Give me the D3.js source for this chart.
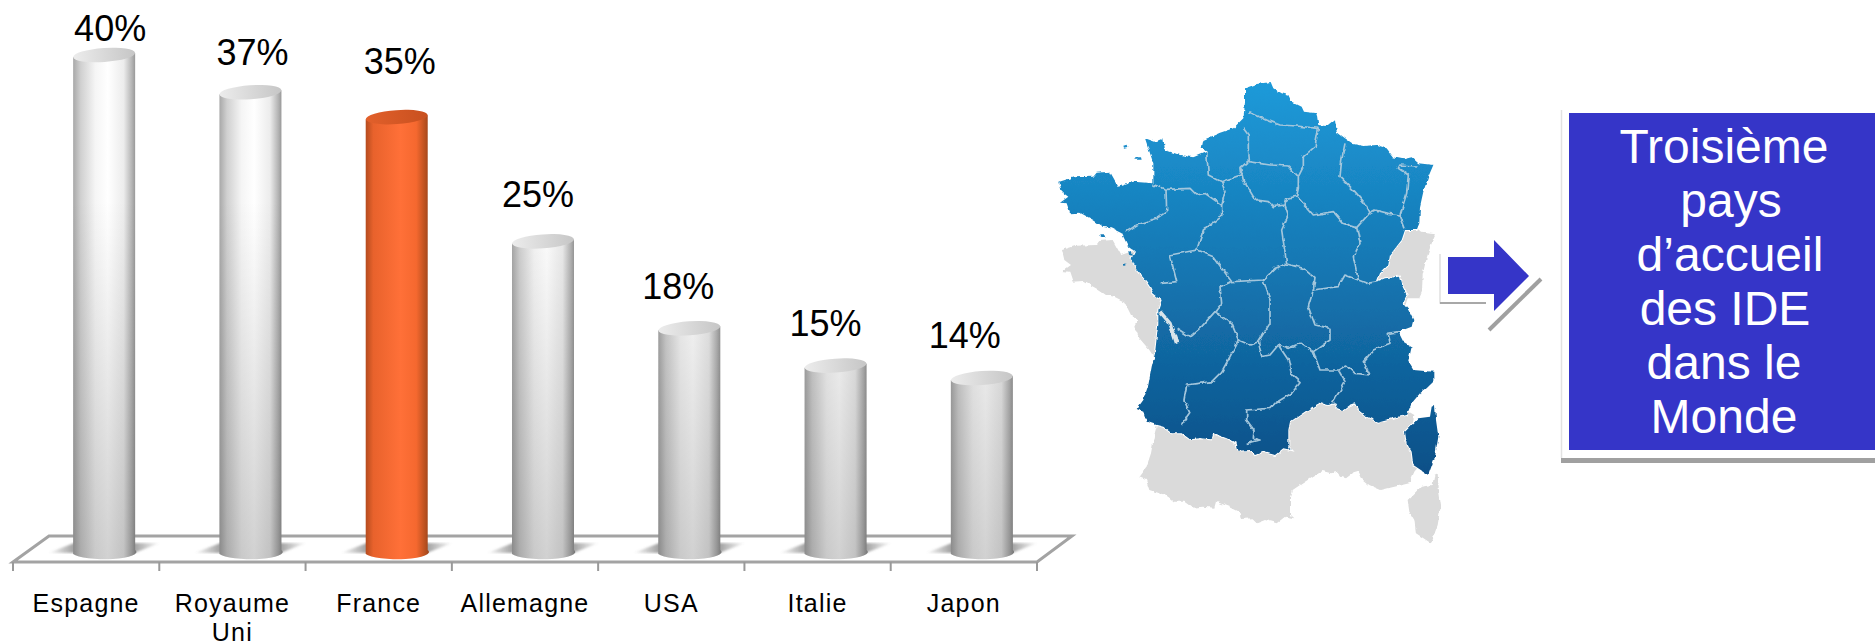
<!DOCTYPE html>
<html lang="fr">
<head>
<meta charset="utf-8">
<title>Pays d'accueil des IDE</title>
<script src="https://cdn.jsdelivr.net/npm/d3@7"></script>
<style>
  html, body { margin: 0; background: #fff; overflow: hidden; }
  text { font-family: "Liberation Sans", Arial, sans-serif; }
</style>
</head>
<body>
<div id="chart"></div>
<script>
// Values
const countries = ['Espagne', 'Royaume Uni', 'France', 'Allemagne', 'USA', 'Italie', 'Japon'];
const shares = [40, 37, 35, 25, 18, 15, 14];
const highlighted = 'France';
const boxLines = ['Troisième', 'pays', 'd’accueil', 'des IDE', 'dans le', 'Monde'];

// Data labels were placed by hand in the original: nudges from the bar position
const labelDx = [24, 20, 21, 13, 7, 8, 1];
const labelDy = [-14, -27, -43, -34, -29, -30, -30];
// Per-line centre of the box text (the lines are not quite aligned)
const boxLineX = [1724, 1731, 1730, 1725, 1724, 1724];

// Map outlines, traced in a 1350x1500 frame
const franceOutline = [[645,85],[680,72],[722,66],[730,85],[755,100],[775,105],[785,125],[815,140],[822,155],[860,160],[865,195],[890,198],[900,190],[915,178],[920,215],[945,235],[970,252],[1000,258],[1040,255],[1070,265],[1090,292],[1120,298],[1145,292],[1165,310],[1210,315],[1195,350],[1180,395],[1170,440],[1168,490],[1160,510],[1125,510],[1115,540],[1080,585],[1075,615],[1050,640],[1040,665],[1065,655],[1110,650],[1118,680],[1130,705],[1118,730],[1135,750],[1150,780],[1145,800],[1105,815],[1120,845],[1145,860],[1135,905],[1150,930],[1210,935],[1210,965],[1190,985],[1170,1000],[1145,1030],[1130,1065],[1085,1075],[1045,1085],[1010,1070],[985,1050],[975,1030],[960,1035],[940,1050],[925,1045],[915,1030],[895,1035],[870,1028],[840,1045],[810,1065],[780,1085],[775,1110],[775,1160],[785,1170],[760,1165],[735,1185],[700,1175],[675,1185],[660,1170],[625,1172],[620,1150],[590,1135],[550,1120],[545,1138],[510,1135],[480,1138],[455,1120],[425,1120],[400,1100],[380,1095],[350,1085],[340,1055],[320,1047],[340,1020],[355,975],[365,920],[375,880],[385,790],[385,750],[395,720],[370,700],[360,680],[350,665],[320,630],[305,595],[315,575],[295,560],[275,520],[245,505],[220,500],[190,480],[150,458],[120,460],[110,430],[90,428],[115,410],[95,395],[88,365],[130,352],[190,350],[200,338],[240,335],[265,380],[310,365],[370,370],[370,310],[345,235],[375,245],[400,235],[405,270],[450,285],[490,292],[530,275],[515,265],[520,240],[570,218],[610,205],[640,175],[645,130]];
const corsicaOutline = [[1205,1040],[1215,1035],[1218,1080],[1225,1130],[1215,1190],[1195,1245],[1150,1215],[1145,1175],[1130,1150],[1125,1115],[1165,1075],[1200,1070]];
const islands = [
  [[280,260],[290,257],[292,264],[282,266]],
  [[315,292],[330,292],[332,299],[317,299]],
  [[211,526],[224,526],[226,534],[214,534]],
  [[295,572],[303,575],[305,587],[297,584]],
  [[282,611],[289,611],[289,617],[282,617]]
];
const regionBorders = [
  [[655,155],[710,180],[750,195],[800,198],[865,205]],
  [[640,205],[655,225],[655,270],[658,300],[630,325],[632,345],[575,365],[535,345],[530,275]],
  [[655,305],[720,315],[775,318],[805,350]],
  [[865,205],[855,260],[820,290],[820,320],[805,350],[805,385],[800,408]],
  [[632,325],[640,360],[670,410],[680,420],[715,425],[730,440],[765,435],[770,415],[800,408]],
  [[800,408],[850,465],[910,455],[940,490],[980,503],[1020,458]],
  [[945,250],[935,300],[930,350],[975,395],[1005,430],[1020,458],[1035,450],[1075,460],[1110,465],[1125,505]],
  [[1160,318],[1110,315],[1105,325],[1135,345],[1130,400],[1110,465]],
  [[370,375],[408,388],[410,455],[380,475],[320,495],[290,515]],
  [[408,388],[480,385],[500,405],[525,400],[575,435]],
  [[575,365],[585,395],[575,435],[575,470],[520,510],[500,570]],
  [[500,570],[420,585],[440,665],[395,670]],
  [[500,570],[550,590],[605,665],[700,660],[735,625],[770,612]],
  [[765,435],[775,465],[755,510],[770,612]],
  [[770,612],[820,625],[855,655],[850,690],[925,680],[945,645],[985,660],[1010,670],[1045,665]],
  [[980,503],[990,550],[970,590],[985,660]],
  [[605,665],[570,680],[575,730],[555,755],[515,800],[480,830],[440,805]],
  [[555,755],[605,790],[625,840],[660,855],[685,845],[720,790],[720,720],[700,660]],
  [[850,690],[835,740],[855,795],[900,805],[900,840],[850,875],[810,850],[775,865],[745,855],[720,885],[695,890],[685,845]],
  [[625,840],[600,890],[575,935],[545,965],[470,975],[462,1020],[480,1060],[455,1095]],
  [[745,855],[775,900],[785,945],[810,968],[785,1000],[735,1030],[720,1045],[650,1050],[650,1080],[672,1110],[670,1135],[690,1140],[650,1150]],
  [[850,875],[870,930],[925,930],[945,965],[925,1000],[905,1030]],
  [[925,930],[950,915],[975,940],[1020,945],[1000,905],[1030,870],[1080,850],[1075,820],[1105,815]]
];
const girondeEstuary = [[390,755],[420,790],[440,850]];

const svg = d3.select('#chart').append('svg')
  .attr('width', 1875)
  .attr('height', 642);
const defs = svg.append('defs');

// Gradients
function cylinderGradient(id, stops) {
  const g = defs.append('linearGradient').attr('id', id);
  stops.forEach(s => g.append('stop').attr('offset', s[0]).attr('stop-color', s[1]));
}
cylinderGradient('body-grey', [[0, '#a8a8a8'], [0.12, '#d0d0d0'], [0.35, '#f5f5f5'], [0.55, '#ffffff'], [0.8, '#ececec'], [0.93, '#b4b4b4'], [1, '#8e8e8e']]);
cylinderGradient('body-orange', [[0, '#b54c1f'], [0.12, '#e8622c'], [0.55, '#ff7038'], [0.8, '#f5682f'], [0.94, '#b9501f'], [1, '#9c441c']]);
cylinderGradient('top-grey', [[0, '#ececec'], [1, '#c6c6c6']]);
cylinderGradient('top-orange', [[0, '#e2602b'], [1, '#c8501f']]);

const fade = defs.append('linearGradient').attr('id', 'body-fade')
  .attr('gradientUnits', 'userSpaceOnUse')
  .attr('x1', 0).attr('x2', 0).attr('y1', 200).attr('y2', 560);
fade.append('stop').attr('offset', 0).attr('stop-color', '#000').attr('stop-opacity', 0);
fade.append('stop').attr('offset', 1).attr('stop-color', '#000').attr('stop-opacity', 0.18);

const shadowGrad = defs.append('linearGradient').attr('id', 'floor-shadow');
shadowGrad.append('stop').attr('offset', 0).attr('stop-color', '#777').attr('stop-opacity', 0);
shadowGrad.append('stop').attr('offset', 0.3).attr('stop-color', '#777').attr('stop-opacity', 0.9);
shadowGrad.append('stop').attr('offset', 0.7).attr('stop-color', '#777').attr('stop-opacity', 0.9);
shadowGrad.append('stop').attr('offset', 1).attr('stop-color', '#777').attr('stop-opacity', 0);

defs.append('filter').attr('id', 'soft').append('feGaussianBlur').attr('stdDeviation', 1);

// Rough edge for the traced map, the original is a low-res bitmap outline
const rough = defs.append('filter').attr('id', 'rough')
  .attr('filterUnits', 'userSpaceOnUse')
  .attr('x', 1030).attr('y', 60).attr('width', 450).attr('height', 500);
rough.append('feTurbulence')
  .attr('type', 'fractalNoise').attr('baseFrequency', 0.16).attr('numOctaves', 2).attr('seed', 4);
rough.append('feDisplacementMap')
  .attr('in', 'SourceGraphic').attr('scale', 4)
  .attr('xChannelSelector', 'R').attr('yChannelSelector', 'G');

const mapGrad = defs.append('linearGradient').attr('id', 'map-blue')
  .attr('gradientUnits', 'userSpaceOnUse')
  .attr('x1', 0).attr('x2', 0).attr('y1', 82).attr('y2', 477);
mapGrad.append('stop').attr('offset', 0).attr('stop-color', '#1e9ad9');
mapGrad.append('stop').attr('offset', 1).attr('stop-color', '#0b4f87');

// Scales
const x = d3.scaleBand().domain(countries).range([13, 1037]);
const y = d3.scaleLinear().domain([0, 40]).range([552, 55]);

const floorDepthX = 35;
const floorDepthY = 26;
const frontY = 562;
const barShift = 18;     // cylinders stand in the middle of the floor, not on the front edge
const barW = 62;
const capRy = 7;
const barCx = d => x(d) + x.bandwidth() / 2 + barShift;

// Floor
const chart = svg.append('g');
chart.append('path')
  .attr('d', `M13,${frontY}L${13 + floorDepthX + 1},${frontY - floorDepthY}L${1037 + floorDepthX},${frontY - floorDepthY}L1037,${frontY}Z`)
  .attr('fill', '#fff')
  .attr('stroke', '#a3a3a3')
  .attr('stroke-width', 3);

// Axis: band edges for the ticks, band centres for the labels
chart.selectAll('.tick-mark')
  .data([...countries.map(d => x(d)), 1037])
  .enter()
  .append('line')
  .attr('class', 'tick-mark')
  .attr('x1', d => d).attr('x2', d => d)
  .attr('y1', frontY).attr('y2', frontY + 9)
  .attr('stroke', '#999')
  .attr('stroke-width', 2);

const axis = chart.append('g')
  .attr('transform', `translate(0,${frontY})`)
  .call(d3.axisBottom(x).tickSize(0).tickFormat(''));
axis.select('.domain').remove();
axis.selectAll('.tick').append('text')
  .attr('text-anchor', 'middle')
  .attr('fill', '#000')
  .style('font-size', '25px')
  .style('letter-spacing', '1.2px')
  .each(function(d) {
    const words = d.split(' ');
    d3.select(this).selectAll('tspan')
      .data(words)
      .enter()
      .append('tspan')
      .attr('x', 0)
      .attr('y', (w, i) => 50 + i * 29)
      .text(w => w);
  });

// Cylinders
const bars = chart.selectAll('.bar')
  .data(countries)
  .enter()
  .append('g')
  .attr('class', 'bar');

bars.append('path')
  .attr('d', d => {
    const cx = barCx(d);
    return `M${cx - 56},${y(0) + 1}L${cx - 30},${y(0) - 9}L${cx + 56},${y(0) - 9}L${cx + 30},${y(0) + 1}Z`;
  })
  .attr('fill', 'url(#floor-shadow)')
  .attr('filter', 'url(#soft)');

function cylinderPath(d) {
  const cx = barCx(d);
  const top = y(shares[countries.indexOf(d)]);
  const bottom = y(0);
  const r = barW / 2;
  // straight top edge: the cap ellipse is drawn over it
  return `M${cx - r},${top + 2}L${cx - r},${bottom + 2}A${r},${capRy} 0 0 0 ${cx + r},${bottom - 2}L${cx + r},${top - 2}Z`;
}

bars.append('path')
  .attr('d', cylinderPath)
  .attr('fill', d => d === highlighted ? 'url(#body-orange)' : 'url(#body-grey)');

bars.filter(d => d !== highlighted).append('path')
  .attr('d', cylinderPath)
  .attr('fill', 'url(#body-fade)');

bars.append('ellipse')
  .attr('cx', d => barCx(d))
  .attr('cy', (d, i) => y(shares[i]))
  .attr('rx', barW / 2)
  .attr('ry', capRy)
  .attr('transform', (d, i) => `rotate(-4 ${barCx(d)} ${y(shares[i])})`)
  .attr('fill', d => d === highlighted ? 'url(#top-orange)' : 'url(#top-grey)');

// Data labels
chart.selectAll('.value-label')
  .data(countries)
  .enter()
  .append('text')
  .attr('class', 'value-label')
  .attr('x', (d, i) => x(d) + x.bandwidth() / 2 + labelDx[i])
  .attr('y', (d, i) => y(shares[i]) + labelDy[i])
  .attr('text-anchor', 'middle')
  .attr('fill', '#000')
  .style('font-size', '36px')
  .text((d, i) => `${shares[i]}%`);

// Map
const mapX = d3.scaleLinear().domain([0, 1350]).range([1030, 1480]);
const mapY = d3.scaleLinear().domain([0, 1500]).range([60, 560]);
const mapLine = d3.line().x(p => mapX(p[0])).y(p => mapY(p[1]));
const closed = pts => mapLine(pts) + 'Z';
const landShapes = [franceOutline, corsicaOutline];

const map = svg.append('g').attr('filter', 'url(#rough)');
map.append('g')
  .attr('transform', `translate(${mapX(8) - mapX(0)},${mapY(205) - mapY(0)})`)
  .selectAll('path')
  .data(landShapes)
  .enter()
  .append('path')
  .attr('d', closed)
  .attr('fill', '#dadada');

map.selectAll('.land-halo')
  .data(landShapes)
  .enter()
  .append('path')
  .attr('class', 'land-halo')
  .attr('d', closed)
  .attr('fill', '#fff')
  .attr('stroke', '#fff')
  .attr('stroke-width', 2);

map.selectAll('.land')
  .data([...landShapes, ...islands])
  .enter()
  .append('path')
  .attr('class', 'land')
  .attr('d', closed)
  .attr('fill', 'url(#map-blue)');

map.selectAll('.border')
  .data(regionBorders)
  .enter()
  .append('path')
  .attr('class', 'border')
  .attr('d', mapLine)
  .attr('fill', 'none')
  .attr('stroke', '#a3c6dc')
  .attr('stroke-width', 1.7)
  .attr('stroke-linejoin', 'round');

map.append('path')
  .attr('d', mapLine(girondeEstuary))
  .attr('fill', 'none')
  .attr('stroke', '#d9e4ea')
  .attr('stroke-width', 3.5);

// Arrow with its offset shadow
const arrow = svg.append('g');
arrow.append('path')
  .attr('d', 'M1440,254V303H1486')
  .attr('fill', 'none')
  .attr('stroke', '#e0e0e0')
  .attr('stroke-width', 1.5);
arrow.append('line')
  .attr('x1', 1440).attr('x2', 1486).attr('y1', 303).attr('y2', 303)
  .attr('stroke', '#a8a8a8').attr('stroke-width', 2);
arrow.append('line')
  .attr('x1', 1541).attr('y1', 279).attr('x2', 1489).attr('y2', 330)
  .attr('stroke', '#a0a0a0').attr('stroke-width', 4);
arrow.append('path')
  .attr('d', 'M1448,257H1494V240L1529,276L1494,311V294H1448Z')
  .attr('fill', '#3535c8');

// Text box
const box = svg.append('g');
box.append('line')
  .attr('x1', 1561.5).attr('x2', 1561.5).attr('y1', 110).attr('y2', 458)
  .attr('stroke', '#e2e2e2').attr('stroke-width', 1.5);
box.append('rect')
  .attr('x', 1561).attr('y', 458).attr('width', 314).attr('height', 5)
  .attr('fill', '#a0a0a0');
box.append('rect')
  .attr('x', 1569).attr('y', 113).attr('width', 306).attr('height', 337)
  .attr('fill', '#3535c8');
box.selectAll('text')
  .data(boxLines)
  .enter()
  .append('text')
  .attr('x', (d, i) => boxLineX[i])
  .attr('y', (d, i) => 163 + i * 54)
  .attr('text-anchor', 'middle')
  .attr('fill', '#fff')
  .style('font-size', '48px')
  .text(d => d);
</script>
</body>
</html>
